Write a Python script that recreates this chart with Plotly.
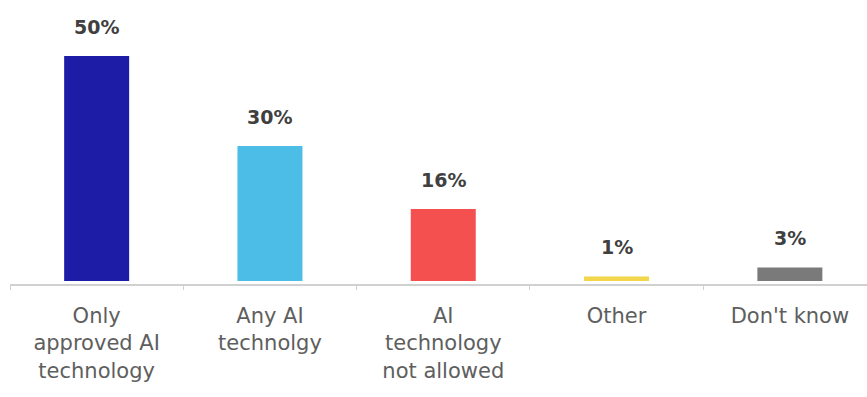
import plotly.graph_objects as go

# Survey responses: which AI technology is allowed at work
categories = [
    "Only<br>approved AI<br>technology",
    "Any AI<br>technolgy",
    "AI<br>technology<br>not allowed",
    "Other",
    "Don't know",
]
values = [50, 30, 16, 1, 3]
value_labels = ["50%", "30%", "16%", "1%", "3%"]
bar_colors = ["#1c1ca6", "#4bbde6", "#f45050", "#f2d64b", "#7a7a7a"]

fig = go.Figure()
fig.add_trace(go.Bar(
    x=categories,
    y=values,
    width=0.375,
    marker=dict(color=bar_colors, line=dict(width=0)),
    hoverinfo="skip",
))

# Value labels above each bar
for cat, v, lab in zip(categories, values, value_labels):
    fig.add_annotation(
        x=cat, y=v, text=lab, showarrow=False,
        xanchor="center", yanchor="bottom", yshift=16,
        font=dict(family="DejaVu Sans", size=19, color="#404040", weight="bold"),
    )

fig.update_layout(
    width=867, height=397,
    margin=dict(l=10, r=0, t=10, b=113),
    paper_bgcolor="white", plot_bgcolor="white",
    showlegend=False,
    xaxis=dict(
        range=[-0.5, 4.445],
        showline=True, linecolor="#d0d0d0", linewidth=1.5,
        ticks="outside", tickson="boundaries", ticklen=4, tickcolor="#d0d0d0",
        ticklabelstandoff=12,
        showgrid=False, zeroline=False,
        tickfont=dict(family="DejaVu Sans", size=21, color="#5e5e5e"),
        fixedrange=True,
    ),
    yaxis=dict(
        range=[-0.67, 60.2],
        visible=False, showgrid=False, zeroline=False,
        fixedrange=True,
    ),
)

fig.write_html("out.html")
